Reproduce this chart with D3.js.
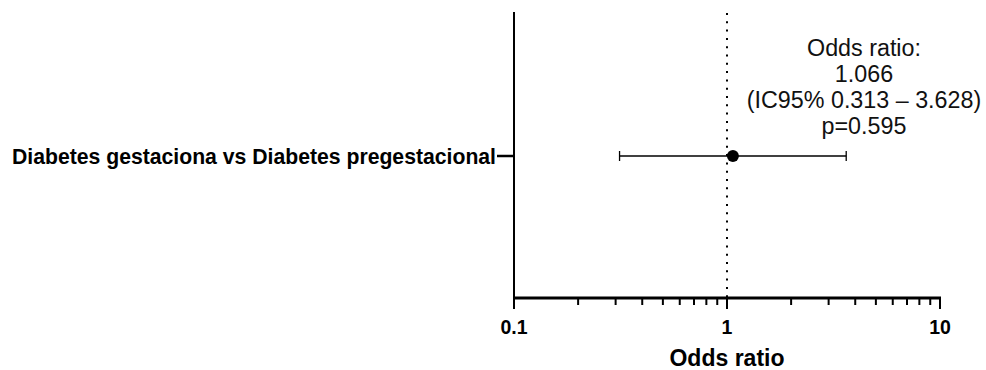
<!DOCTYPE html>
<html><head><meta charset="utf-8">
<script src="https://cdn.jsdelivr.net/npm/d3@7"></script>
<style>body{margin:0;background:#fff}svg{display:block;font-family:"Liberation Sans",Arial,sans-serif}</style>
</head><body><svg id="c" width="986" height="370"></svg>
<script>
const categories = ["Diabetes gestaciona vs Diabetes pregestacional"];
const oddsRatio = [1.066];
const ciLow = [0.313];
const ciHigh = [3.628];
const annotationLines = ["Odds ratio:", "1.066", "(IC95% 0.313 \u2013 3.628)", "p=0.595"];
const tickValues = [0.1, 1, 10];
const tickLabels = ["0.1", "1", "10"];
const refLine = 1;

const svg = d3.select("#c");
const x = d3.scaleLog().domain([0.1, 10]).range([514, 940]);
const y = d3.scaleBand().domain(categories).range([12, 298]).paddingInner(0).paddingOuter(0.05);
const yc = d => y(d) + y.bandwidth()/2 + 1;

// minor ticks
const minor = [];
for (let dec of [0.1, 1]) for (let k = 2; k <= 9; k++) minor.push(+(dec*k).toFixed(3));

// reference dotted line
svg.append("line").attr("x1", x(refLine)).attr("x2", x(refLine)).attr("y1", 13).attr("y2", 298)
  .attr("stroke", "#000").attr("stroke-width", 2).attr("stroke-dasharray", "2,6.3");

// x axis
const xa = svg.append("g").attr("transform", "translate(0,298)");
xa.append("line").attr("x1", 513).attr("x2", 941).attr("stroke", "#000").attr("stroke-width", 3);
xa.selectAll(".mn").data(minor).join("line").attr("x1", d => x(d)).attr("x2", d => x(d))
  .attr("y1", 0).attr("y2", 7).attr("stroke", "#000").attr("stroke-width", 2);
xa.selectAll(".mj").data(tickValues).join("line").attr("x1", d => x(d)).attr("x2", d => x(d))
  .attr("y1", 0).attr("y2", 11).attr("stroke", "#000").attr("stroke-width", 2);
xa.selectAll(".tl").data(tickValues).join("text").attr("x", d => x(d)).attr("y", 36)
  .attr("text-anchor", "middle").attr("font-weight", "bold").attr("font-size", 19.5)
  .text((d, i) => tickLabels[i]);
svg.append("text").attr("x", x(1)).attr("y", 366).attr("text-anchor", "middle")
  .attr("font-weight", "bold").attr("font-size", 23).text("Odds ratio");

// y axis
svg.append("line").attr("x1", 514).attr("x2", 514).attr("y1", 12).attr("y2", 299)
  .attr("stroke", "#000").attr("stroke-width", 2);
categories.forEach((c, i) => {
  svg.append("line").attr("x1", 497).attr("x2", 514).attr("y1", yc(c)).attr("y2", yc(c))
    .attr("stroke", "#000").attr("stroke-width", 2.5);
  svg.append("text").attr("x", 496).attr("y", yc(c)).attr("dy", "0.36em").attr("text-anchor", "end")
    .attr("font-weight", "bold").attr("font-size", 21.2).text(c);
  // CI
  svg.append("line").attr("x1", x(ciLow[i])).attr("x2", x(ciHigh[i])).attr("y1", yc(c)).attr("y2", yc(c))
    .attr("stroke", "#000").attr("stroke-width", 1.3);
  [ciLow[i], ciHigh[i]].forEach(v => svg.append("line").attr("x1", x(v)).attr("x2", x(v))
    .attr("y1", yc(c) - 5).attr("y2", yc(c) + 5).attr("stroke", "#000").attr("stroke-width", 1.3));
  svg.append("circle").attr("cx", x(oddsRatio[i])).attr("cy", yc(c)).attr("r", 6).attr("fill", "#000");
});

// annotation
svg.append("g").selectAll("text").data(annotationLines).join("text")
  .attr("x", 864).attr("y", (d, i) => 56 + i*26).attr("text-anchor", "middle")
  .attr("font-size", 23.3).attr("fill", "#111").text(d => d);
</script></body></html>
